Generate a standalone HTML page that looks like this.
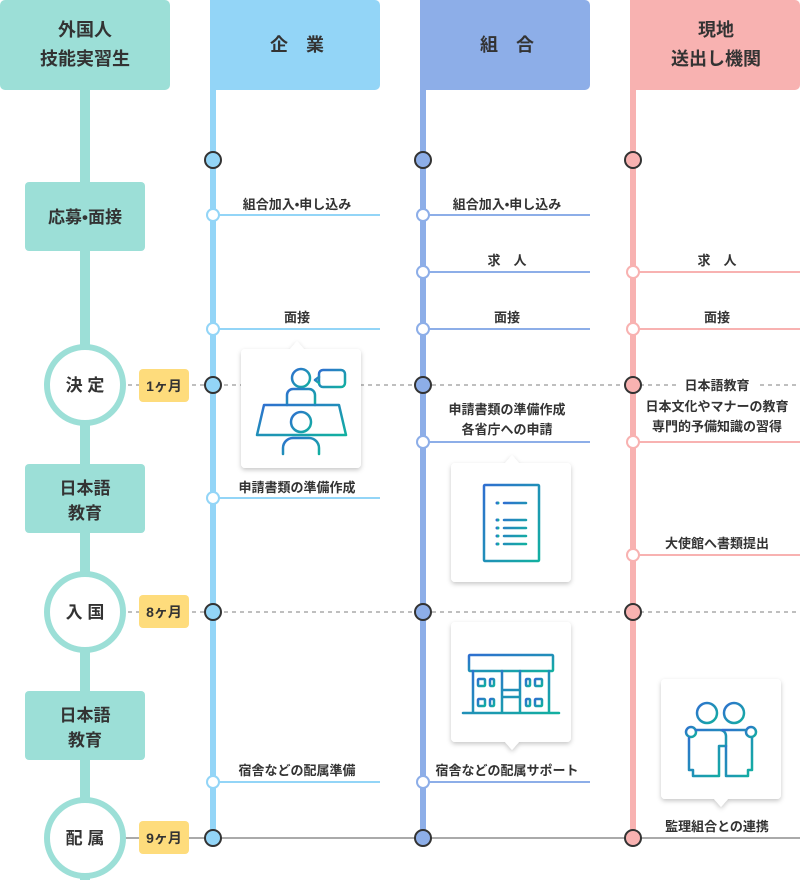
<!DOCTYPE html>
<html><head><meta charset="utf-8"><style>
html,body{margin:0;padding:0;background:#fff;}
svg{display:block}
text{font-family:"Liberation Sans","Noto Sans CJK JP",sans-serif;font-weight:bold;fill:#333;}
</style></head><body>
<svg width="800" height="880" viewBox="0 0 800 880" xmlns="http://www.w3.org/2000/svg">
<defs>
<linearGradient id="g" x1="0" y1="0" x2="1" y2="1"><stop offset="0" stop-color="#2f6fd0"/><stop offset="1" stop-color="#12b0a0"/></linearGradient>
<filter id="sh" x="-20%" y="-20%" width="140%" height="140%"><feDropShadow dx="0" dy="2" stdDeviation="2.5" flood-color="#000" flood-opacity="0.22"/></filter>
</defs>
<line x1="120" y1="385" x2="800" y2="385" stroke="#aaa" stroke-width="1.5" stroke-dasharray="4 4"/>
<line x1="120" y1="612" x2="800" y2="612" stroke="#aaa" stroke-width="1.5" stroke-dasharray="4 4"/>
<line x1="120" y1="838" x2="800" y2="838" stroke="#aaa" stroke-width="2"/>

<rect x="0" y="0" width="170" height="90" rx="5" fill="#9cdfd7"/>
<text x="85" y="36" font-size="18" text-anchor="middle">外国人</text>
<text x="85" y="65" font-size="18" text-anchor="middle">技能実習生</text>
<path d="M210 0 H375 a5 5 0 0 1 5 5 V85 a5 5 0 0 1 -5 5 H210 Z" fill="#93d5f7"/>
<text x="297" y="51" font-size="18" text-anchor="middle">企　業</text>
<path d="M420 0 H585 a5 5 0 0 1 5 5 V85 a5 5 0 0 1 -5 5 H420 Z" fill="#8daee8"/>
<text x="507" y="51" font-size="18" text-anchor="middle">組　合</text>
<path d="M630 0 H795 a5 5 0 0 1 5 5 V85 a5 5 0 0 1 -5 5 H630 Z" fill="#f8b2b1"/>
<text x="716" y="36" font-size="18" text-anchor="middle">現地</text>
<text x="716" y="65" font-size="18" text-anchor="middle">送出し機関</text>

<rect x="80" y="90" width="10" height="790" fill="#9cdfd7"/>
<rect x="210" y="90" width="6" height="750" fill="#93d5f7"/>
<rect x="420" y="90" width="6" height="750" fill="#8daee8"/>
<rect x="630" y="90" width="6" height="750" fill="#f8b2b1"/>

<rect x="25" y="182" width="120" height="69" rx="4" fill="#9cdfd7"/>
<text x="85" y="223" font-size="17" text-anchor="middle">応募•面接</text>
<rect x="25" y="464" width="120" height="69" rx="4" fill="#9cdfd7"/>
<text x="85" y="494" font-size="17" text-anchor="middle">日本語</text>
<text x="85" y="519" font-size="17" text-anchor="middle">教育</text>
<rect x="25" y="691" width="120" height="69" rx="4" fill="#9cdfd7"/>
<text x="85" y="721" font-size="17" text-anchor="middle">日本語</text>
<text x="85" y="746" font-size="17" text-anchor="middle">教育</text>
<g fill="#fff" stroke="#9cdfd7" stroke-width="6">
<circle cx="85" cy="385" r="38"/><circle cx="85" cy="612" r="38"/><circle cx="85" cy="838" r="38"/>
</g>
<text x="85" y="391" font-size="17" text-anchor="middle">決 定</text>
<text x="85" y="618" font-size="17" text-anchor="middle">入 国</text>
<text x="85" y="844" font-size="17" text-anchor="middle">配 属</text>
<g fill="#fedc7c"><rect x="139" y="369" width="50" height="33" rx="4"/><rect x="139" y="595" width="50" height="33" rx="4"/><rect x="139" y="821" width="50" height="33" rx="4"/></g>
<text x="164" y="391" font-size="14" text-anchor="middle">1ヶ月</text>
<text x="164" y="617" font-size="14" text-anchor="middle">8ヶ月</text>
<text x="164" y="843" font-size="14" text-anchor="middle">9ヶ月</text>

<g stroke-width="2">
<line x1="213" y1="215" x2="380" y2="215" stroke="#93d5f7"/>
<line x1="213" y1="329" x2="380" y2="329" stroke="#93d5f7"/>
<line x1="213" y1="498" x2="380" y2="498" stroke="#93d5f7"/>
<line x1="213" y1="782" x2="380" y2="782" stroke="#93d5f7"/>
<line x1="423" y1="215" x2="590" y2="215" stroke="#8daee8"/>
<line x1="423" y1="272" x2="590" y2="272" stroke="#8daee8"/>
<line x1="423" y1="329" x2="590" y2="329" stroke="#8daee8"/>
<line x1="423" y1="442" x2="590" y2="442" stroke="#8daee8"/>
<line x1="423" y1="782" x2="590" y2="782" stroke="#8daee8"/>
<line x1="633" y1="272" x2="800" y2="272" stroke="#f8b2b1"/>
<line x1="633" y1="329" x2="800" y2="329" stroke="#f8b2b1"/>
<line x1="633" y1="442" x2="800" y2="442" stroke="#f8b2b1"/>
<line x1="633" y1="555" x2="800" y2="555" stroke="#f8b2b1"/>
</g>
<g fill="#fff" stroke-width="2">
<g stroke="#93d5f7"><circle cx="213" cy="215" r="6"/><circle cx="213" cy="329" r="6"/><circle cx="213" cy="498" r="6"/><circle cx="213" cy="782" r="6"/></g>
<g stroke="#8daee8"><circle cx="423" cy="215" r="6"/><circle cx="423" cy="272" r="6"/><circle cx="423" cy="329" r="6"/><circle cx="423" cy="442" r="6"/><circle cx="423" cy="782" r="6"/></g>
<g stroke="#f8b2b1"><circle cx="633" cy="272" r="6"/><circle cx="633" cy="329" r="6"/><circle cx="633" cy="442" r="6"/><circle cx="633" cy="555" r="6"/></g>
</g>
<g stroke="#333" stroke-width="2">
<g fill="#93d5f7"><circle cx="213" cy="160" r="8"/><circle cx="213" cy="385" r="8"/><circle cx="213" cy="612" r="8"/><circle cx="213" cy="838" r="8"/></g>
<g fill="#8daee8"><circle cx="423" cy="160" r="8"/><circle cx="423" cy="385" r="8"/><circle cx="423" cy="612" r="8"/><circle cx="423" cy="838" r="8"/></g>
<g fill="#f8b2b1"><circle cx="633" cy="160" r="8"/><circle cx="633" cy="385" r="8"/><circle cx="633" cy="612" r="8"/><circle cx="633" cy="838" r="8"/></g>
</g>

<g font-size="13" text-anchor="middle">
<text x="297" y="209">組合加入•申し込み</text>
<text x="297" y="322">面接</text>
<text x="297" y="492">申請書類の準備作成</text>
<text x="297" y="775">宿舎などの配属準備</text>
<text x="507" y="209">組合加入•申し込み</text>
<text x="507" y="265">求　人</text>
<text x="507" y="322">面接</text>
<text x="507" y="414">申請書類の準備作成</text>
<text x="507" y="434">各省庁への申請</text>
<text x="507" y="775">宿舎などの配属サポート</text>
<text x="717" y="265">求　人</text>
<text x="717" y="322">面接</text>
<rect x="678" y="377" width="78" height="16" fill="#fff"/>
<text x="717" y="390">日本語教育</text>
<text x="717" y="411">日本文化やマナーの教育</text>
<text x="717" y="431">専門的予備知識の習得</text>
<text x="717" y="548">大使館へ書類提出</text>
<text x="717" y="831">監理組合との連携</text>
</g>

<g filter="url(#sh)" fill="#fff">
<path d="M245 349 H290 L297 341 L304 349 H357 a4 4 0 0 1 4 4 V464 a4 4 0 0 1 -4 4 H245 a4 4 0 0 1 -4 -4 V353 a4 4 0 0 1 4 -4Z"/>
<path d="M455 463 H505 L512 455 L519 463 H567 a4 4 0 0 1 4 4 V578 a4 4 0 0 1 -4 4 H455 a4 4 0 0 1 -4 -4 V467 a4 4 0 0 1 4 -4Z"/>
<path d="M455 622 H567 a4 4 0 0 1 4 4 V738 a4 4 0 0 1 -4 4 H519 L512 750 L505 742 H455 a4 4 0 0 1 -4 -4 V626 a4 4 0 0 1 4 -4Z"/>
<path d="M665 679 H777 a4 4 0 0 1 4 4 V795 a4 4 0 0 1 -4 4 H728 L721 807 L714 799 H665 a4 4 0 0 1 -4 -4 V683 a4 4 0 0 1 4 -4Z"/>
</g>
<g fill="none" stroke="url(#g)" stroke-width="2.5" stroke-linecap="round" stroke-linejoin="round">
<circle cx="301" cy="378" r="9"/>
<path d="M287 405 v-10 a6 6 0 0 1 6 -6 h16 a6 6 0 0 1 6 6 v10"/>
<rect x="319" y="370" width="26" height="17" rx="4"/>
<path d="M319 377 l-4 3 l4 3"/>
<path d="M264 405 H339 L346 435 H257 Z"/>
<circle cx="301" cy="422" r="10"/>
<path d="M283 454 v-6 a10 10 0 0 1 10 -10 h16 a10 10 0 0 1 10 10 v6"/>
<rect x="484" y="485" width="55" height="76" rx="1"/>
<path d="M504 503 h22 M504 520 h22 M504 528 h22 M504 536 h22 M504 544 h22"/>
<path d="M497 503 h1 M497 520 h1 M497 528 h1 M497 536 h1 M497 544 h1" stroke-width="3"/>
<rect x="469" y="655" width="84" height="16" rx="1"/>
<path d="M473 671 V713 M549 671 V713 M502 671 V713 M520 671 V713 M502 690 H520 M502 697 H520 M463 713 H559"/>
<rect x="478" y="679" width="7" height="7" rx="1"/><rect x="490" y="679" width="4" height="7" rx="1"/>
<rect x="478" y="699" width="7" height="7" rx="1"/><rect x="490" y="699" width="4" height="7" rx="1"/>
<rect x="526" y="679" width="4" height="7" rx="1"/><rect x="535" y="679" width="7" height="7" rx="1"/>
<rect x="526" y="699" width="4" height="7" rx="1"/><rect x="535" y="699" width="7" height="7" rx="1"/>
<circle cx="707" cy="713" r="10"/><circle cx="734" cy="713" r="10"/>
<circle cx="691" cy="732" r="5"/><circle cx="751" cy="732" r="5"/>
<path d="M696 730 H720 a6 6 0 0 1 6 6 V746 H719 V776 H693 V770 H689 V738"/>
<path d="M722 730 H746 M726 746 V776 H748 V770 H752 V738"/>
</g>
</svg>
</body></html>
